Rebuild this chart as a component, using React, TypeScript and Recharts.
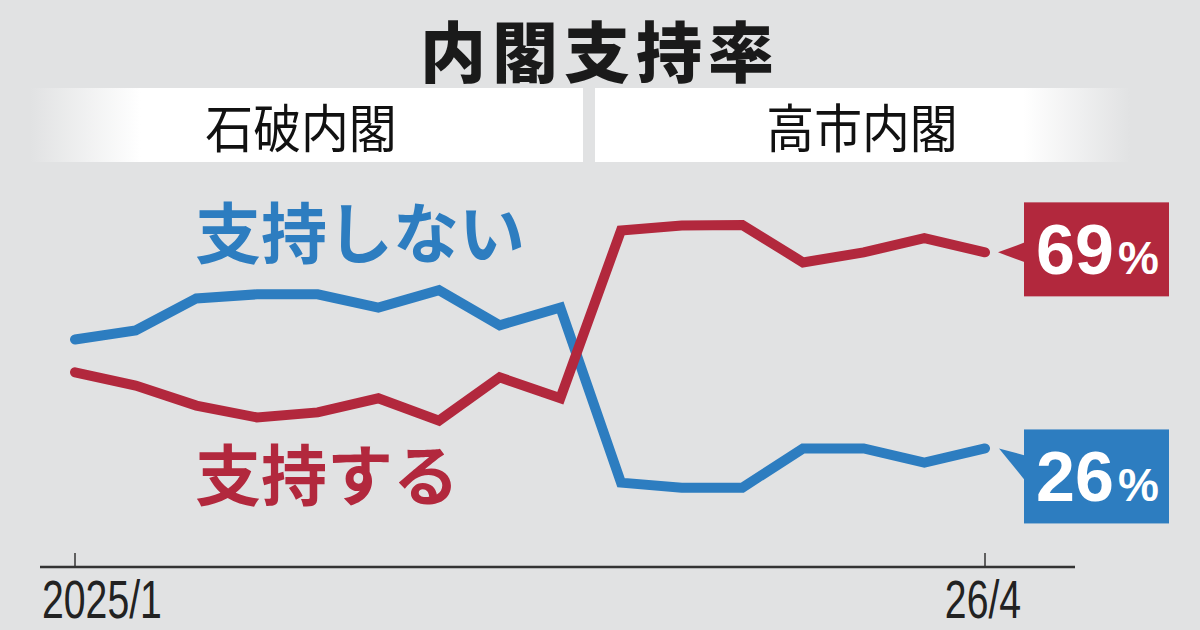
import React from "react";
import { LineChart, Line, XAxis, YAxis } from "recharts";

const months = [
	"2025/1", "2025/2", "2025/3", "2025/4", "2025/5", "2025/6", "2025/7", "2025/8",
	"2025/9", "2025/10", "2025/11", "2025/12", "26/1", "26/2", "26/3", "26/4",
];
const approve = [42.7, 39.8, 35.4, 32.8, 33.9, 37, 32.1, 41.6, 37, 73.8, 74.9, 75, 66.8, 69, 72.1, 69];
const disapprove = [49.9, 51.9, 58.9, 59.8, 59.8, 56.9, 60.7, 53, 56.9, 18.5, 17.4, 17.4, 26, 26, 22.9, 26];
const shownTicks = ["2025/1", "26/4"];
const cabinets = ["石破内閣", "高市内閣"];

const BG = "#e1e2e3";
const BLUE = "#2d7dc0";
const RED = "#b2283d";
const JP = "'Noto Sans CJK JP', 'Noto Sans', sans-serif";

const data = months.map((m, i) => ({ month: m, approve: approve[i], disapprove: disapprove[i] }));

const MonthTick = (props: any) => {
	const { x, y, payload, index } = props;
	if (!shownTicks.includes(payload.value)) return null;
	const first = index === 0;
	const tx = first ? x - 33 : x - 2;
	return (
		<g>
			<line x1={x} y1={y - 14} x2={x} y2={y} stroke="#333" strokeWidth={1.5} />
			<text
				x={0}
				y={0}
				transform={`translate(${tx},${y + 51}) scale(0.74,1)`}
				textAnchor={first ? "start" : "middle"}
				fontFamily="'Liberation Sans', Arial, sans-serif"
				fontSize={53}
				fill="#222">
				{payload.value}
			</text>
		</g>
	);
};

const callout = (color: string, placement: "above" | "below") => (props: any) => {
	const { x, y, index, value } = props;
	if (index !== months.length - 1) return null;
	const top = placement === "above" ? y - 50 : y - 19;
	const bx = x + 39;
	const tri =
		placement === "above"
			? `${x + 13},${y} ${bx + 1},${y - 10} ${bx + 1},${y + 10}`
			: `${x + 14},${y} ${bx + 1},${y + 7} ${bx + 1},${y + 32}`;
	return (
		<g>
			<polygon points={tri} fill={color} />
			<rect x={bx} y={top} width={145} height={94} fill={color} />
			<text x={bx + 12} y={top + 72} fill="#fff" fontFamily="'Liberation Sans', Arial, sans-serif" fontWeight={700}>
				<tspan fontSize={70}>{Math.round(value)}</tspan>
				<tspan fontSize={46} dx={4}>%</tspan>
			</text>
		</g>
	);
};

const bandStyle = (left: number, width: number, grad: string): React.CSSProperties => ({
	position: "absolute",
	left,
	top: 88,
	width,
	height: 74,
	background: grad,
	display: "flex",
	alignItems: "center",
	justifyContent: "center",
});

export default function App() {
	return (
		<div style={{ position: "absolute", left: 0, top: 0, width: 1200, height: 630, background: BG, overflow: "hidden" }}>
			<div
				style={{
					position: "absolute",
					left: 350,
					top: 0,
					width: 500,
					textAlign: "center",
					fontFamily: JP,
					fontWeight: 900,
					fontSize: 66,
					lineHeight: "normal",
					letterSpacing: 6,
					color: "#1a1a1a",
				}}>
				内閣支持率
			</div>
			<div style={bandStyle(30, 553, `linear-gradient(to right, ${BG} 0%, #ffffff 20%, #ffffff 100%)`)}>
				<span style={{ fontFamily: JP, fontSize: 52, color: "#111", display: "inline-block", transform: "scaleX(0.92)", marginLeft: -10 }}>
					{cabinets[0]}
				</span>
			</div>
			<div style={bandStyle(595, 535, `linear-gradient(to right, #ffffff 0%, #ffffff 80%, ${BG} 100%)`)}>
				<span style={{ fontFamily: JP, fontSize: 52, color: "#111", display: "inline-block", transform: "scaleX(0.92)", marginLeft: 0 }}>
					{cabinets[1]}
				</span>
			</div>
			<div style={{ position: "absolute", left: 195, top: 196, fontFamily: JP, fontWeight: 700, fontSize: 66, lineHeight: 1, color: BLUE }}>
				支持しない
			</div>
			<div style={{ position: "absolute", left: 195, top: 438, fontFamily: JP, fontWeight: 700, fontSize: 66, lineHeight: 1, color: RED }}>
				支持する
			</div>
			<div style={{ position: "absolute", left: 0, top: 0 }}>
				<LineChart width={1200} height={630} data={data} margin={{ top: 111, right: 125, left: 40, bottom: 0 }}>
					<YAxis hide domain={[0, 100]} />
					<XAxis
						dataKey="month"
						height={63}
						padding={{ left: 35, right: 90 }}
						interval={0}
						tickSize={0}
						tickMargin={0}
						axisLine={{ stroke: "#333", strokeWidth: 2.5 }}
						tickLine={false}
						tick={<MonthTick />}
					/>
					<Line
						dataKey="disapprove"
						stroke={BLUE}
						strokeWidth={10}
						strokeLinecap="round"
						dot={false}
						isAnimationActive={false}
						label={callout(BLUE, "below")}
					/>
					<Line
						dataKey="approve"
						stroke={RED}
						strokeWidth={10}
						strokeLinecap="round"
						dot={false}
						isAnimationActive={false}
						label={callout(RED, "above")}
					/>
				</LineChart>
			</div>
		</div>
	);
}
